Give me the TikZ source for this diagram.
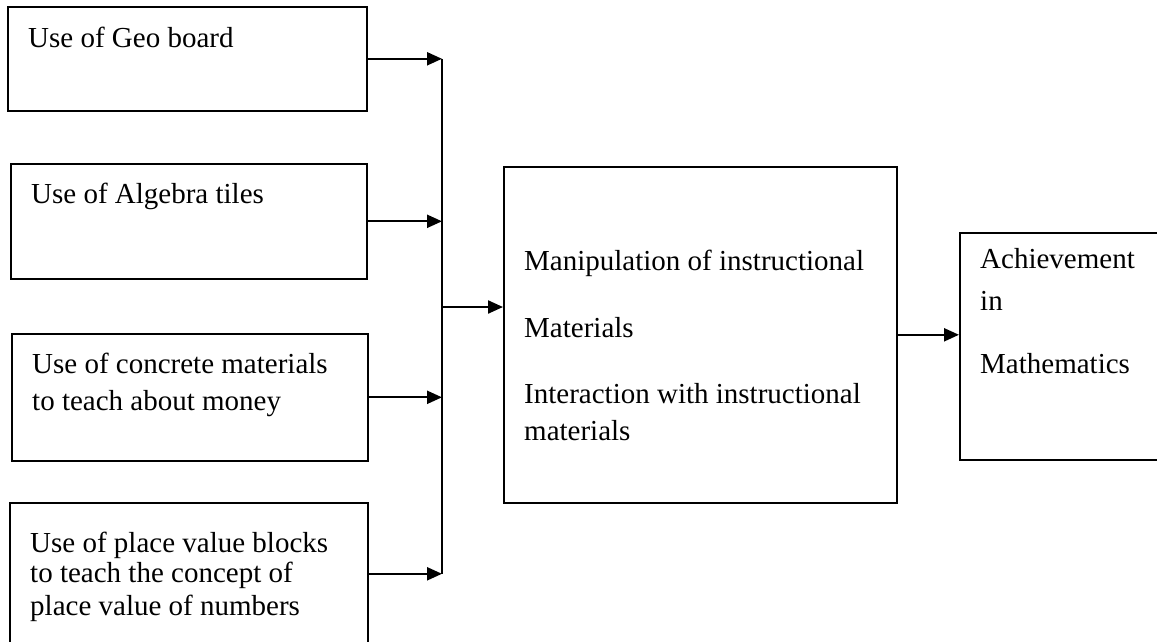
\documentclass[tikz,border=0pt]{standalone}
\usepackage{fontspec}
\setmainfont{Liberation Serif}
\usetikzlibrary{arrows.meta, calc}

\begin{document}
\begin{tikzpicture}[x=1pt, y=-1pt,
  box/.style={draw, line width=1.6pt, inner sep=0pt, anchor=north west},
  txt/.style={anchor=base west, align=left, inner sep=0pt, font=\fontsize{29}{33}\selectfont},
  arr/.style={->, >={Triangle[length=15pt, width=13pt]}, line width=2.2pt},
  bus/.style={line width=1.6pt}]
\useasboundingbox (0,0) rectangle (1157,641);
\clip (0,0) rectangle (1157,641);

% Draw boxes
\node[box, minimum width=359pt, minimum height=104pt] (geo) at (7,6) {};
\node[box, minimum width=356pt, minimum height=115pt] (alg) at (10,163) {};
\node[box, minimum width=356pt, minimum height=127pt] (con) at (11,333) {};
\node[box, minimum width=358pt, minimum height=142pt] (pla) at (9,502) {};
\node[box, minimum width=393pt, minimum height=336pt] (man) at (503,166) {};
\node[box, minimum width=221pt, minimum height=227pt] (ach) at (959,232) {};

% Texts (placed at the baseline of their last line)
\node[txt] (geotxt) at (28,47) {Use of Geo board};
\node[txt] (algtxt) at (31,203) {Use of Algebra tiles};
\node[txt] (context) at (32,410) {Use of concrete materials\\[4pt] to teach about money};
\node[txt] (platxt) at (30,615) {Use of place value blocks\\[-3pt] to teach the concept of\\ place value of numbers};
\node[txt] (mantxt) at (524,440) {Manipulation of instructional\\[34pt] Materials\\[33pt] Interaction with instructional\\[4pt] materials};
\node[txt] (achtxt) at (980,373) {Achievement\\[9pt] in\\[30pt] Mathematics};

% Draw arrows
\coordinate (bus) at (442,0);
\coordinate (join) at (442,307);
\draw[bus] (geo.east -| bus) -- (pla.east -| bus);
\foreach \b in {geo, alg, con, pla}
  \draw[arr] (\b.east) -- (\b.east -| bus);
\draw[arr] (join) -- (join -| man.west);
\draw[arr] (man.east) -- (man.east -| ach.west);
\end{tikzpicture}
\end{document}
